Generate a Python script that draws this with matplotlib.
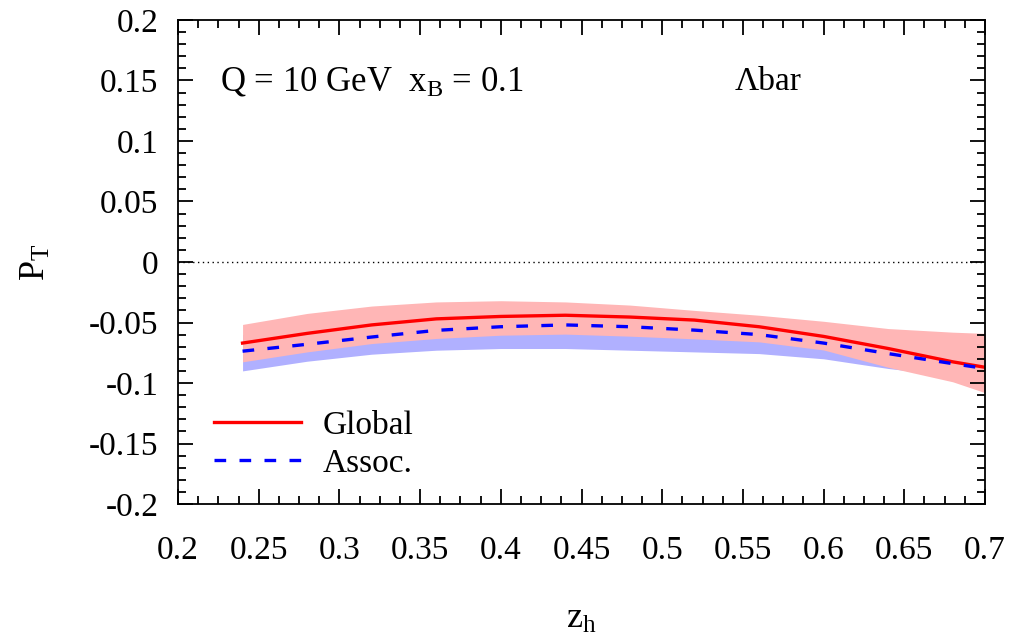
import matplotlib
matplotlib.use("Agg")
import matplotlib.pyplot as plt
import numpy as np
from matplotlib.ticker import MultipleLocator, FuncFormatter

plt.rcParams['font.family'] = ['Liberation Serif', 'DejaVu Serif']
plt.rcParams['mathtext.fontset'] = 'custom'
plt.rcParams['mathtext.rm'] = 'Liberation Serif'
plt.rcParams['mathtext.it'] = 'Liberation Serif:italic'

# values
z = [0.24, 0.28, 0.32, 0.36, 0.40, 0.44, 0.48, 0.52, 0.56, 0.60, 0.64, 0.68, 0.70]
global_pt = [-0.067, -0.059, -0.052, -0.047, -0.045, -0.044, -0.0455, -0.048, -0.0535, -0.0615, -0.0715, -0.0825, -0.087]
global_hi = [-0.0516, -0.0425, -0.0364, -0.033, -0.032, -0.033, -0.0356, -0.040, -0.044, -0.049, -0.055, -0.058, -0.059]
global_lo = [-0.0825, -0.0743, -0.0674, -0.0632, -0.0605, -0.0596, -0.0613, -0.0635, -0.066, -0.0727, -0.087, -0.099, -0.108]
assoc_pt = [-0.0737, -0.068, -0.062, -0.0565, -0.0535, -0.052, -0.0535, -0.0563, -0.060, -0.067, -0.0757, -0.084, -0.088]
assoc_hi = [-0.060, -0.055, -0.049, -0.043, -0.040, -0.039, -0.040, -0.042, -0.046, -0.054, -0.064, -0.074, -0.079]
assoc_lo = [-0.090, -0.082, -0.0762, -0.0729, -0.0715, -0.0715, -0.0729, -0.0743, -0.0757, -0.080, -0.088, -0.094, -0.097]

fig = plt.figure(figsize=(10.15, 6.41), dpi=100)
ax = fig.add_axes([178/1015, 1 - 504/641, (985-178)/1015, (504-20)/641])

ax.fill_between(z, assoc_lo, assoc_hi, color='#b0b0ff', lw=0)
ax.fill_between(z, global_lo, global_hi, color='#ffb6b6', lw=0)
ax.axhline(0, color='black', lw=1, ls=(0, (1, 2.5)))
ax.plot(z, global_pt, color='red', lw=2.4, label='Global')
ax.plot(z, assoc_pt, color='blue', lw=2.4, ls=(0, (3.5, 4)), label='Assoc.')

ax.set_xlim(0.2, 0.7)
ax.set_ylim(-0.2, 0.2)
ax.xaxis.set_major_locator(MultipleLocator(0.05))
ax.xaxis.set_minor_locator(MultipleLocator(0.0125))
ax.yaxis.set_major_locator(MultipleLocator(0.05))
ax.yaxis.set_minor_locator(MultipleLocator(0.01))
fmt = FuncFormatter(lambda v, p: '%g' % round(v, 3))
ax.xaxis.set_major_formatter(fmt)
ax.yaxis.set_major_formatter(fmt)
ax.tick_params(which='both', direction='in', top=True, right=True, width=1.3, labelsize=24)
ax.tick_params(which='major', length=11)
ax.tick_params(which='minor', length=6)
ax.tick_params(axis='x', pad=23)
ax.tick_params(axis='y', pad=14)
for s in ax.spines.values():
    s.set_linewidth(1.3)

ax.set_xlabel(r'z$_\mathrm{h}$', fontsize=26, labelpad=26)
ax.set_ylabel(r'P$_\mathrm{T}$', fontsize=26, labelpad=26)

ax.text(0.052, 0.855, r'Q = 10 GeV  x$_\mathrm{B}$ = 0.1', transform=ax.transAxes, fontsize=25)
ax.text(0.69, 0.855, 'Λbar', transform=ax.transAxes, fontsize=24)

ax.legend(loc='lower left', bbox_to_anchor=(0.008, -0.01), frameon=False, fontsize=24,
          handlelength=2.6, handletextpad=0.65, labelspacing=0.22)

fig.savefig('out.png', dpi=100)
